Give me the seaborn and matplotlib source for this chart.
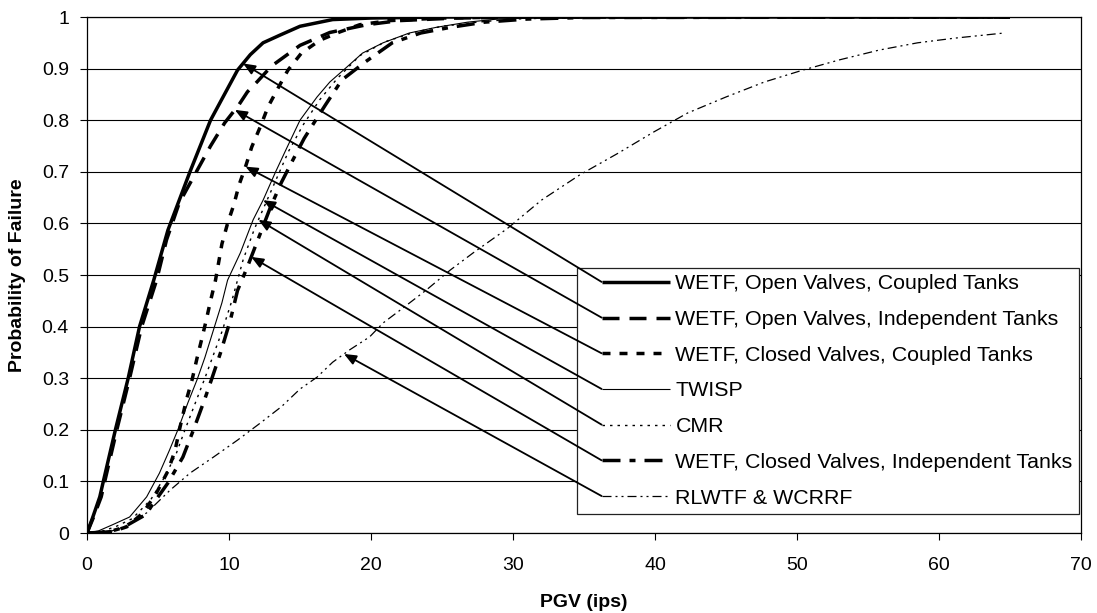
import numpy as np
import matplotlib
matplotlib.use("Agg")
import matplotlib.pyplot as plt
import seaborn as sns
from matplotlib.legend_handler import HandlerLine2D

# ---------------- data ----------------
labels = [
    "WETF, Open Valves, Coupled Tanks",
    "WETF, Open Valves, Independent Tanks",
    "WETF, Closed Valves, Coupled Tanks",
    "TWISP",
    "CMR",
    "WETF, Closed Valves, Independent Tanks",
    "RLWTF & WCRRF",
]

open_coupled_x = [0, 0.4, 0.9, 1.15, 2.0, 2.9, 3.7, 4.7, 5.7, 7.25, 8.7, 9.6, 10.6, 11.5, 12.4, 13.6, 15.0, 17.3, 20, 25, 30, 65]
open_coupled_y = [0, 0.03, 0.07, 0.10, 0.20, 0.30, 0.40, 0.49, 0.587, 0.70, 0.80, 0.846, 0.897, 0.927, 0.95, 0.965, 0.982, 0.995, 0.998, 1, 1, 1]

open_indep_x = [0, 0.45, 1.0, 1.25, 2.1, 3.0, 3.85, 4.9, 5.6, 6.5, 7.7, 8.7, 9.7, 10.7, 11.3, 12.0, 13.0, 14.0, 15.0, 17.1, 19.7, 22, 26, 32, 65]
open_indep_y = [0, 0.03, 0.07, 0.10, 0.20, 0.30, 0.40, 0.49, 0.568, 0.64, 0.70, 0.75, 0.795, 0.83, 0.855, 0.875, 0.905, 0.925, 0.945, 0.97, 0.985, 0.993, 0.998, 1.0, 1.0]

closed_coupled_x = [0, 1.0, 1.8, 2.8, 3.95, 4.9, 5.7, 6.2, 6.55, 7.0, 7.4, 7.75, 8.1, 8.4, 8.7, 9.05, 9.5, 9.9, 10.35, 10.7, 11.2, 11.6, 12.2, 12.75, 13.45, 14.15, 15.1, 16.4, 17.8, 19.2, 21.3, 25, 30, 65]
closed_coupled_y = [0, 0.001, 0.003, 0.012, 0.039, 0.078, 0.12, 0.16, 0.205, 0.258, 0.297, 0.339, 0.378, 0.413, 0.45, 0.49, 0.56, 0.60, 0.637, 0.674, 0.713, 0.748, 0.787, 0.826, 0.862, 0.897, 0.93, 0.955, 0.971, 0.985, 0.993, 0.998, 1.0, 1.0]

twisp_x = [0, 0.8, 1.8, 3.0, 4.2, 5.1, 5.8, 6.4, 7.1, 7.75, 8.3, 8.9, 9.5, 9.9, 10.8, 11.7, 12.4, 13.25, 14.1, 15.0, 16.2, 17.1, 18.3, 19.4, 20.85, 22.7, 24.6, 26.8, 28.9, 32, 36, 65]
twisp_y = [0, 0.004, 0.016, 0.031, 0.07, 0.116, 0.16, 0.20, 0.252, 0.297, 0.34, 0.393, 0.446, 0.49, 0.543, 0.607, 0.645, 0.698, 0.748, 0.80, 0.845, 0.874, 0.903, 0.93, 0.95, 0.969, 0.98, 0.99, 0.996, 0.999, 1.0, 1.0]

cmr_x = [0, 1.0, 2.0, 3.2, 4.5, 5.5, 6.3, 6.9, 7.6, 8.3, 8.9, 9.5, 10.2, 11.0, 11.8, 12.6, 13.4, 14.2, 15.2, 16.4, 17.6, 19.2, 21, 23, 25, 27.5, 30, 34, 65]
cmr_y = [0, 0.003, 0.012, 0.028, 0.065, 0.11, 0.155, 0.20, 0.25, 0.30, 0.345, 0.39, 0.45, 0.53, 0.59, 0.64, 0.69, 0.74, 0.79, 0.84, 0.88, 0.925, 0.952, 0.97, 0.982, 0.99, 0.996, 0.999, 1.0]

closed_indep_x = [0, 1.5, 2.5, 4.1, 5.7, 6.75, 7.5, 8.3, 8.8, 9.4, 10.1, 10.6, 11.3, 12.2, 12.9, 13.7, 14.5, 15.3, 16.1, 16.8, 17.95, 19.6, 21.5, 23.5, 25.6, 28, 31, 35, 65]
closed_indep_y = [0, 0.002, 0.01, 0.035, 0.097, 0.147, 0.2, 0.26, 0.30, 0.349, 0.413, 0.47, 0.516, 0.58, 0.63, 0.68, 0.723, 0.765, 0.80, 0.83, 0.878, 0.913, 0.95, 0.969, 0.98, 0.99, 0.996, 0.999, 1.0]

rlwtf_x = [0, 1.5, 2.5, 4.2, 5.85, 7.25, 8.9, 10.6, 12.2, 13.7, 15.0, 16.2, 17.3, 18.5, 19.9, 20.85, 22.25, 23.9, 25.6, 27.2, 29.6, 32.0, 34.7, 37.4, 39.9, 42.3, 45.0, 47.7, 50.4, 53.0, 55.8, 58.5, 61.1, 64.6]
rlwtf_y = [0, 0.002, 0.01, 0.039, 0.083, 0.116, 0.147, 0.18, 0.213, 0.245, 0.279, 0.302, 0.331, 0.355, 0.38, 0.407, 0.436, 0.471, 0.51, 0.543, 0.59, 0.645, 0.694, 0.736, 0.777, 0.814, 0.845, 0.874, 0.897, 0.917, 0.936, 0.95, 0.959, 0.969]

# probability level at which each callout arrow touches its curve
arrow_levels = [0.91, 0.82, 0.71, 0.645, 0.607, 0.535, 0.347]

x_ticks = [0, 10, 20, 30, 40, 50, 60, 70]
y_ticks = [0, 0.1, 0.2, 0.3, 0.4, 0.5, 0.6, 0.7, 0.8, 0.9, 1.0]
y_tick_labels = ["0", "0.1", "0.2", "0.3", "0.4", "0.5", "0.6", "0.7", "0.8", "0.9", "1"]

# ---------------- styling ----------------
sns.set_style("white")
plt.rcParams['font.family'] = ['Liberation Sans', 'DejaVu Sans']
plt.rcParams['lines.scale_dashes'] = False
plt.rcParams['text.color'] = 'black'
plt.rcParams['axes.labelcolor'] = 'black'

W, H = 1097, 613
PX = 0.72  # points per pixel at dpi 100

fig = plt.figure(figsize=(W / 100, H / 100), dpi=100)
ax = fig.add_axes([87 / W, 1 - 533 / H, (1081 - 87) / W, (533 - 17) / H])

series = [
    (open_coupled_x, open_coupled_y, 2.5, None),
    (open_indep_x, open_indep_y, 2.5, [17, 10]),
    (closed_coupled_x, closed_coupled_y, 2.5, [8, 9]),
    (twisp_x, twisp_y, 0.8, None),
    (cmr_x, cmr_y, 1.0, [2.5, 5]),
    (closed_indep_x, closed_indep_y, 2.5, [18, 9, 6, 9]),
    (rlwtf_x, rlwtf_y, 0.9, [9, 4, 2, 4, 2, 4]),
]

for (xs, ys, lw, dash), lab in zip(series, labels):
    sns.lineplot(x=xs, y=ys, ax=ax, color='black', linewidth=lw, label=lab,
                 legend=False, sort=False, estimator=None)
    line = ax.get_lines()[-1]
    if dash is not None:
        line.set_dashes([d * PX for d in dash])
    line.set_solid_capstyle('butt')
    line.set_dash_capstyle('butt')
    line.set_solid_joinstyle('round')

ax.set_xlim(0, 70)
ax.set_ylim(0, 1)
ax.set_xticks(x_ticks)
ax.set_yticks(y_ticks)
ax.set_yticklabels(y_tick_labels)
ax.yaxis.grid(True, color='black', linewidth=0.8)
ax.xaxis.grid(False)
ax.set_axisbelow(True)
for s in ax.spines.values():
    s.set_visible(True)
    s.set_color('black')
    s.set_linewidth(0.9)
ax.tick_params(axis='both', which='major', bottom=True, left=True, top=False, right=False,
               direction='out', length=5, width=0.8, color='black', labelsize=14,
               labelcolor='black')
ax.tick_params(axis='x', pad=12.5)
ax.tick_params(axis='y', pad=8)
ax.set_xlabel("PGV (ips)", fontsize=14, fontweight='bold', labelpad=14, color='black')
ax.set_ylabel("Probability of Failure", fontsize=14, fontweight='bold', labelpad=11, color='black')


class OffsetLineHandler(HandlerLine2D):
    def __init__(self, offset_frac, **kw):
        super().__init__(**kw)
        self.offset_frac = offset_frac

    def create_artists(self, legend, orig_handle, xdescent, ydescent, width, height, fontsize, trans):
        off = self.offset_frac * width
        return super().create_artists(legend, orig_handle, xdescent - off, ydescent,
                                      width - off, height, fontsize, trans)


handles, labs = ax.get_legend_handles_labels()
handler = OffsetLineHandler(0.21)
leg = ax.legend(handles, labs, loc='upper left',
                bbox_to_anchor=(577 / W, 1 - 268 / H), bbox_transform=fig.transFigure,
                borderaxespad=0, fontsize=15.4, frameon=True, fancybox=False,
                edgecolor='#222222', framealpha=1, facecolor='white',
                borderpad=0.3, labelspacing=0.78, handlelength=4.05, handletextpad=0.25,
                numpoints=1, labelcolor='black',
                handler_map={h: handler for h in handles})
leg.get_frame().set_linewidth(0.9)
leg.set_zorder(5)

fig.canvas.draw()
inv = ax.transData.inverted()
curve_xy = [(s[0], s[1]) for s in series]
for legline, (xs, ys), lvl in zip(leg.get_lines(), curve_xy, arrow_levels):
    pts = legline.get_xydata()
    disp = legline.get_transform().transform(pts[0])
    start = inv.transform(disp)
    tip_x = float(np.interp(lvl, ys, xs))
    ax.annotate('', xy=(tip_x, lvl), xytext=(start[0], start[1]),
                xycoords='data', textcoords='data', annotation_clip=False,
                arrowprops=dict(arrowstyle='-|>,head_length=0.6,head_width=0.25',
                                color='black', lw=1.3, shrinkA=0, shrinkB=0,
                                mutation_scale=12),
                zorder=6)

fig.savefig("out.png", dpi=100)
